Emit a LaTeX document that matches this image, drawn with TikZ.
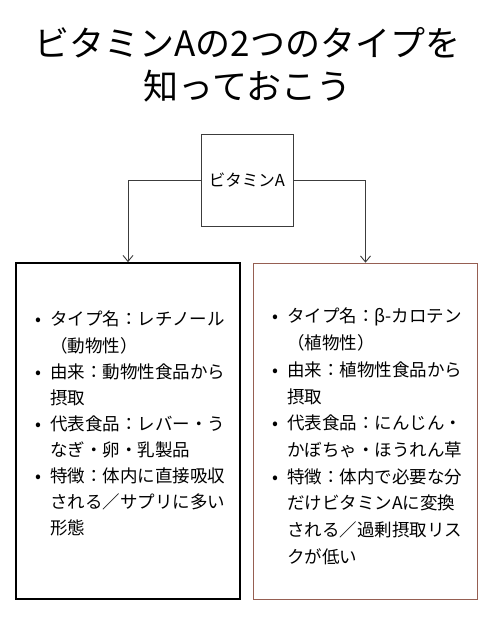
\documentclass[tikz,border=0pt]{standalone}
\usepackage{fontspec}
\setmainfont{Noto Sans CJK JP}
\usetikzlibrary{arrows.meta}
\definecolor{carColor}{RGB}{150,95,82}
\definecolor{lineGray}{RGB}{60,60,60}
\newcommand\bul{\makebox[15pt][l]{•}}
\newcommand\ind{\hspace*{15pt}}

\begin{document}
\begin{tikzpicture}[x=1pt,y=-1pt]

\tikzset{typeBox/.style={draw,rectangle,minimum width=224pt,minimum height=336pt,inner sep=0pt}}
\tikzset{list/.style={anchor=north west,align=left,inner sep=0pt}}
\tikzset{toBox/.style={-{Straight Barb[length=6pt,width=10pt]},draw=lineGray,line width=0.9pt}}

\useasboundingbox (0,0) rectangle (495,622);

\node[align=center,font=\fontsize{35}{43}\selectfont] (title) at (247.5,65) {ビタミンAの2つのタイプを\\知っておこう};

\node[draw=lineGray,line width=0.9pt,minimum size=92pt,inner sep=0pt,font=\fontsize{16.5}{20}\selectfont] (vitA) at (247,180) {ビタミンA};

\node[typeBox,line width=1.8pt] (retBox) at (128,431) {};
\node[typeBox,draw=carColor,line width=1.7pt] (carBox) at (365.5,431.5) {};

\node[list,font=\fontsize{17.5}{26.1}\selectfont] (retList) at (35,311) {\bul タイプ名：レチノール\\
\ind（動物性）\\
\bul 由来：動物性食品から\\
\ind 摂取\\
\bul 代表食品：レバー・う\\
\ind なぎ・卵・乳製品\\
\bul 特徴：体内に直接吸収\\
\ind される／サプリに多い\\
\ind 形態};

\node[list,font=\fontsize{17.5}{26.7}\selectfont] (carList) at (272,308) {\bul タイプ名：β-カロテン\\
\ind（植物性）\\
\bul 由来：植物性食品から\\
\ind 摂取\\
\bul 代表食品：にんじん・\\
\ind かぼちゃ・ほうれん草\\
\bul 特徴：体内で必要な分\\
\ind だけビタミンAに変換\\
\ind される／過剰摂取リス\\
\ind クが低い};

\draw[toBox] (vitA.west) -| (retBox.north);
\draw[toBox] (vitA.east) -| (carBox.north);

\end{tikzpicture}
\end{document}
